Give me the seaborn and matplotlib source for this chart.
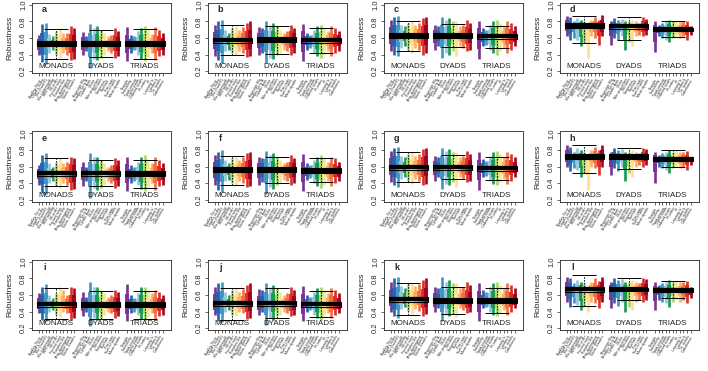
import numpy as np
import pandas as pd
import matplotlib
matplotlib.use("Agg")
import matplotlib.pyplot as plt
from matplotlib.patches import Rectangle
import seaborn as sns

sns.set_style("ticks")
plt.rcParams["font.family"] = ["Liberation Sans", "DejaVu Sans"]

panels = list("abcdefghijkl")
groups = ["MONADS", "DYADS", "TRIADS"]

# method names under each group (11 per group)
labels_monads = ["Bradley-Terry", "David's score", "Elo (fixed K)", "Elo (optimised)",
                 "I&SI ranking", "ISI order", "Percent wins", "Random Elo",
                 "Avg. dominance", "Clutton-Brock", "Norm. David's"]
labels_dyads = ["Bayesian Elo", "Bradley-Terry B.", "Dyadic dom.", "Glicko",
                "Win proportion", "Net wins", "Steepness", "TrueSkill",
                "Pair ratio", "Sum of wins", "Mean dyadic"]
labels_triads = ["Triangle", "Transitivity", "Triad census", "Cyclic triads",
                 "Ordered triads", "Pt index", "ttri", "Linearity h'", "Landau h",
                 "Tri. motifs", "Orderliness"]

colours = sns.color_palette(["#7b3294", "#2166ac", "#4393c3", "#92c5de", "#1a9850",
                             "#a6d96a", "#fee08b", "#fdae61", "#f46d43", "#d73027",
                             "#a50026"])

# group medians, box (q1, q3) and whisker ends per panel: MONADS, DYADS, TRIADS
median = {
    "a": [0.53, 0.53, 0.53], "b": [0.57, 0.58, 0.57], "c": [0.63, 0.63, 0.62], "d": [0.75, 0.74, 0.705],
    "e": [0.52, 0.52, 0.51], "f": [0.56, 0.56, 0.55], "g": [0.59, 0.59, 0.58], "h": [0.72, 0.72, 0.69],
    "i": [0.49, 0.48, 0.48], "j": [0.50, 0.50, 0.49], "k": [0.55, 0.53, 0.53], "l": [0.67, 0.67, 0.66],
}
q1 = {
    "a": [0.50, 0.50, 0.50], "b": [0.54, 0.55, 0.54], "c": [0.60, 0.60, 0.59], "d": [0.72, 0.71, 0.685],
    "e": [0.49, 0.49, 0.48], "f": [0.53, 0.53, 0.52], "g": [0.56, 0.56, 0.55], "h": [0.69, 0.69, 0.67],
    "i": [0.46, 0.45, 0.45], "j": [0.47, 0.47, 0.46], "k": [0.52, 0.50, 0.50], "l": [0.64, 0.65, 0.64],
}
q3 = {
    "a": [0.56, 0.56, 0.56], "b": [0.60, 0.61, 0.60], "c": [0.66, 0.66, 0.65], "d": [0.78, 0.77, 0.725],
    "e": [0.55, 0.55, 0.54], "f": [0.59, 0.59, 0.58], "g": [0.62, 0.62, 0.61], "h": [0.75, 0.75, 0.71],
    "i": [0.52, 0.51, 0.51], "j": [0.53, 0.53, 0.52], "k": [0.58, 0.56, 0.56], "l": [0.70, 0.69, 0.68],
}
whisk_lo = {
    "a": [0.35, 0.37, 0.35], "b": [0.39, 0.41, 0.42], "c": [0.44, 0.49, 0.475], "d": [0.54, 0.58, 0.61],
    "e": [0.36, 0.36, 0.34], "f": [0.38, 0.40, 0.41], "g": [0.41, 0.45, 0.44], "h": [0.52, 0.57, 0.60],
    "i": [0.31, 0.31, 0.31], "j": [0.30, 0.32, 0.33], "k": [0.36, 0.37, 0.38], "l": [0.47, 0.54, 0.56],
}
whisk_hi = {
    "a": [0.71, 0.70, 0.71], "b": [0.76, 0.75, 0.72], "c": [0.81, 0.77, 0.74], "d": [0.87, 0.85, 0.81],
    "e": [0.70, 0.68, 0.68], "f": [0.73, 0.72, 0.70], "g": [0.77, 0.74, 0.72], "h": [0.86, 0.83, 0.80],
    "i": [0.68, 0.65, 0.65], "j": [0.69, 0.68, 0.65], "k": [0.74, 0.70, 0.69], "l": [0.84, 0.80, 0.77],
}

# lowest / highest value of every method (MONADS 11, DYADS 11, TRIADS 11)
strip_lo = {
    "a": [0.40, 0.31, 0.29, 0.42, 0.45, 0.39, 0.36, 0.42, 0.40, 0.33, 0.35,
          0.40, 0.44, 0.24, 0.35, 0.33, 0.36, 0.40, 0.44, 0.42, 0.36, 0.38,
          0.32, 0.42, 0.45, 0.40, 0.35, 0.32, 0.37, 0.42, 0.33, 0.38, 0.40],
    "b": [0.38, 0.33, 0.30, 0.44, 0.46, 0.42, 0.40, 0.44, 0.42, 0.37, 0.38,
          0.40, 0.42, 0.30, 0.36, 0.34, 0.40, 0.42, 0.46, 0.44, 0.40, 0.42,
          0.32, 0.46, 0.48, 0.42, 0.38, 0.36, 0.40, 0.44, 0.38, 0.42, 0.44],
    "c": [0.44, 0.40, 0.38, 0.48, 0.50, 0.46, 0.42, 0.48, 0.46, 0.40, 0.42,
          0.46, 0.50, 0.36, 0.42, 0.40, 0.44, 0.38, 0.50, 0.48, 0.44, 0.46,
          0.34, 0.50, 0.52, 0.46, 0.42, 0.40, 0.44, 0.48, 0.42, 0.46, 0.50],
    "d": [0.63, 0.57, 0.60, 0.58, 0.50, 0.55, 0.36, 0.62, 0.60, 0.52, 0.62,
          0.52, 0.60, 0.57, 0.62, 0.45, 0.55, 0.50, 0.62, 0.64, 0.62, 0.64,
          0.43, 0.62, 0.60, 0.58, 0.55, 0.60, 0.62, 0.60, 0.62, 0.58, 0.64],
    "e": [0.38, 0.28, 0.27, 0.40, 0.42, 0.36, 0.34, 0.40, 0.38, 0.31, 0.33,
          0.36, 0.42, 0.22, 0.34, 0.32, 0.34, 0.38, 0.42, 0.40, 0.34, 0.36,
          0.30, 0.40, 0.42, 0.38, 0.33, 0.30, 0.35, 0.40, 0.32, 0.36, 0.38],
    "f": [0.37, 0.31, 0.29, 0.42, 0.44, 0.40, 0.38, 0.42, 0.40, 0.35, 0.36,
          0.38, 0.41, 0.27, 0.35, 0.33, 0.38, 0.40, 0.44, 0.42, 0.38, 0.40,
          0.30, 0.44, 0.46, 0.40, 0.36, 0.34, 0.38, 0.42, 0.36, 0.40, 0.42],
    "g": [0.41, 0.37, 0.35, 0.45, 0.47, 0.43, 0.39, 0.45, 0.43, 0.37, 0.39,
          0.43, 0.47, 0.33, 0.39, 0.37, 0.41, 0.35, 0.47, 0.45, 0.41, 0.43,
          0.31, 0.47, 0.49, 0.43, 0.39, 0.37, 0.41, 0.45, 0.39, 0.43, 0.47],
    "h": [0.60, 0.54, 0.58, 0.56, 0.47, 0.52, 0.32, 0.60, 0.58, 0.50, 0.60,
          0.50, 0.58, 0.55, 0.60, 0.42, 0.52, 0.47, 0.60, 0.62, 0.60, 0.62,
          0.40, 0.60, 0.58, 0.56, 0.52, 0.58, 0.60, 0.58, 0.60, 0.56, 0.62],
    "i": [0.38, 0.30, 0.28, 0.40, 0.42, 0.36, 0.33, 0.40, 0.38, 0.30, 0.32,
          0.34, 0.40, 0.22, 0.32, 0.30, 0.32, 0.36, 0.40, 0.38, 0.32, 0.34,
          0.28, 0.38, 0.40, 0.36, 0.31, 0.28, 0.33, 0.38, 0.30, 0.34, 0.36],
    "j": [0.36, 0.29, 0.27, 0.40, 0.42, 0.36, 0.34, 0.40, 0.38, 0.31, 0.32,
          0.36, 0.40, 0.24, 0.32, 0.30, 0.34, 0.36, 0.40, 0.38, 0.34, 0.36,
          0.28, 0.40, 0.42, 0.36, 0.32, 0.30, 0.34, 0.38, 0.32, 0.36, 0.38],
    "k": [0.40, 0.34, 0.32, 0.43, 0.45, 0.41, 0.37, 0.43, 0.41, 0.35, 0.37,
          0.40, 0.44, 0.29, 0.36, 0.34, 0.38, 0.33, 0.44, 0.42, 0.38, 0.40,
          0.29, 0.44, 0.46, 0.40, 0.36, 0.34, 0.38, 0.42, 0.36, 0.40, 0.44],
    "l": [0.52, 0.46, 0.50, 0.48, 0.42, 0.46, 0.39, 0.52, 0.50, 0.44, 0.52,
          0.44, 0.50, 0.47, 0.52, 0.40, 0.46, 0.42, 0.52, 0.54, 0.52, 0.54,
          0.42, 0.54, 0.52, 0.50, 0.46, 0.52, 0.54, 0.52, 0.54, 0.50, 0.56],
}
strip_hi = {
    "a": [0.64, 0.77, 0.78, 0.65, 0.62, 0.68, 0.72, 0.66, 0.66, 0.74, 0.72,
          0.67, 0.62, 0.77, 0.72, 0.74, 0.70, 0.66, 0.62, 0.64, 0.72, 0.69,
          0.73, 0.64, 0.62, 0.68, 0.72, 0.75, 0.70, 0.65, 0.73, 0.70, 0.66],
    "b": [0.76, 0.80, 0.82, 0.70, 0.66, 0.72, 0.74, 0.70, 0.73, 0.78, 0.80,
          0.73, 0.72, 0.80, 0.76, 0.78, 0.74, 0.70, 0.66, 0.68, 0.76, 0.72,
          0.77, 0.66, 0.64, 0.70, 0.74, 0.76, 0.72, 0.68, 0.74, 0.72, 0.68],
    "c": [0.82, 0.86, 0.87, 0.76, 0.74, 0.78, 0.80, 0.76, 0.78, 0.84, 0.86,
          0.76, 0.74, 0.86, 0.82, 0.84, 0.80, 0.80, 0.74, 0.76, 0.82, 0.78,
          0.80, 0.72, 0.70, 0.76, 0.80, 0.82, 0.78, 0.74, 0.80, 0.78, 0.74],
    "d": [0.87, 0.85, 0.80, 0.84, 0.82, 0.80, 0.76, 0.82, 0.85, 0.82, 0.88,
          0.80, 0.84, 0.82, 0.83, 0.80, 0.80, 0.82, 0.80, 0.78, 0.85, 0.83,
          0.80, 0.76, 0.78, 0.80, 0.82, 0.80, 0.82, 0.80, 0.80, 0.81, 0.74],
    "e": [0.62, 0.74, 0.76, 0.64, 0.60, 0.66, 0.70, 0.64, 0.66, 0.72, 0.70,
          0.66, 0.60, 0.76, 0.72, 0.72, 0.68, 0.64, 0.60, 0.62, 0.70, 0.68,
          0.72, 0.62, 0.60, 0.66, 0.72, 0.74, 0.69, 0.64, 0.72, 0.68, 0.64],
    "f": [0.74, 0.78, 0.80, 0.68, 0.64, 0.70, 0.72, 0.68, 0.71, 0.76, 0.78,
          0.71, 0.70, 0.79, 0.74, 0.76, 0.72, 0.68, 0.64, 0.66, 0.74, 0.70,
          0.75, 0.64, 0.62, 0.68, 0.72, 0.74, 0.70, 0.66, 0.72, 0.70, 0.66],
    "g": [0.79, 0.83, 0.84, 0.73, 0.71, 0.75, 0.77, 0.73, 0.75, 0.81, 0.83,
          0.73, 0.71, 0.83, 0.79, 0.81, 0.77, 0.77, 0.71, 0.73, 0.79, 0.75,
          0.77, 0.69, 0.67, 0.73, 0.77, 0.79, 0.75, 0.71, 0.77, 0.75, 0.71],
    "h": [0.86, 0.84, 0.78, 0.82, 0.80, 0.78, 0.74, 0.80, 0.84, 0.80, 0.86,
          0.78, 0.82, 0.80, 0.81, 0.78, 0.78, 0.80, 0.78, 0.76, 0.83, 0.81,
          0.78, 0.74, 0.76, 0.78, 0.80, 0.78, 0.80, 0.78, 0.78, 0.79, 0.72],
    "i": [0.62, 0.70, 0.73, 0.60, 0.56, 0.62, 0.70, 0.66, 0.60, 0.70, 0.68,
          0.64, 0.58, 0.76, 0.70, 0.70, 0.66, 0.62, 0.58, 0.60, 0.66, 0.64,
          0.73, 0.60, 0.56, 0.62, 0.70, 0.70, 0.66, 0.62, 0.66, 0.64, 0.60],
    "j": [0.70, 0.74, 0.76, 0.64, 0.60, 0.66, 0.68, 0.64, 0.67, 0.72, 0.74,
          0.67, 0.66, 0.75, 0.70, 0.72, 0.68, 0.64, 0.60, 0.62, 0.70, 0.66,
          0.71, 0.60, 0.58, 0.64, 0.68, 0.70, 0.66, 0.62, 0.68, 0.66, 0.62],
    "k": [0.76, 0.80, 0.82, 0.71, 0.69, 0.73, 0.75, 0.71, 0.73, 0.78, 0.80,
          0.70, 0.68, 0.82, 0.76, 0.78, 0.74, 0.74, 0.68, 0.70, 0.76, 0.72,
          0.74, 0.66, 0.64, 0.70, 0.74, 0.76, 0.72, 0.68, 0.74, 0.72, 0.68],
    "l": [0.82, 0.80, 0.74, 0.78, 0.76, 0.74, 0.72, 0.76, 0.80, 0.77, 0.82,
          0.76, 0.80, 0.78, 0.79, 0.76, 0.76, 0.78, 0.76, 0.74, 0.80, 0.79,
          0.76, 0.72, 0.74, 0.76, 0.78, 0.76, 0.78, 0.76, 0.76, 0.77, 0.70],
}

n_meth = 11
step = 12.5
xpos = [g * step + i for g in range(3) for i in range(n_meth)]
tick_labels = labels_monads + labels_dyads + labels_triads
strip_cols = list(colours) * 3

fig = plt.figure(figsize=(7.08, 3.71), dpi=100)
W, H = 708, 371
lefts = [32, 208, 384, 560]
tops = [3, 131.5, 260]
box_w, box_h = 139, 70

for k, p in enumerate(panels):
    r, c = divmod(k, 4)
    ax = fig.add_axes([lefts[c] / W, 1 - (tops[r] + box_h) / H, box_w / W, box_h / H])
    lo = np.array(strip_lo[p])
    hi = np.array(strip_hi[p])
    med_rep = np.repeat(median[p], n_meth)
    # full range of each method, then a denser core around the median
    ax.vlines(xpos, lo, hi, colors=strip_cols, lw=1.9)
    core_lo = np.maximum(lo, med_rep - 0.55 * (med_rep - lo))
    core_hi = np.minimum(hi, med_rep + 0.55 * (hi - med_rep))
    ax.vlines(xpos, core_lo, core_hi, colors=strip_cols, lw=2.8)

    for g in range(3):
        x0 = g * step
        xc = x0 + (n_meth - 1) / 2
        ax.add_patch(Rectangle((x0 - 0.6, q1[p][g]), n_meth - 1 + 1.2, q3[p][g] - q1[p][g],
                               fill=False, ec="black", lw=0.8, zorder=4))
        ax.hlines(median[p][g], x0 - 0.6, x0 + n_meth - 1 + 0.6, color="black", lw=3.0, zorder=5)
        ax.vlines(xc, q3[p][g], whisk_hi[p][g], color="black", lw=0.6, ls=(0, (2, 1.5)), zorder=4)
        ax.vlines(xc, whisk_lo[p][g], q1[p][g], color="black", lw=0.6, ls=(0, (2, 1.5)), zorder=4)
        ax.hlines([whisk_lo[p][g], whisk_hi[p][g]], xc - 3.4, xc + 3.4, color="black", lw=0.7, zorder=4)
        ax.text(xc, 0.25, groups[g], ha="center", va="center", fontsize=5.8, color="#222222")

    ax.set_xlim(-1.9, 2 * step + n_meth - 1 + 2.4)
    ax.set_ylim(0.176, 1.024)
    ax.set_yticks([0.2, 0.4, 0.6, 0.8, 1.0])
    ax.set_yticklabels(["0.2", "0.4", "0.6", "0.8", "1.0"], rotation=90, va="center", fontsize=5.5)
    ax.set_xticks(xpos)
    ax.set_xticklabels(tick_labels, rotation=60, ha="right", rotation_mode="anchor", fontsize=2.6)
    ax.tick_params(length=2, width=0.5, pad=1.5)
    ax.set_ylabel("Robustness", fontsize=6, labelpad=5)
    for s in ax.spines.values():
        s.set_linewidth(0.6)
    ax.text(0.09, 0.9, p, transform=ax.transAxes, fontsize=6.5, fontweight="bold",
            ha="center", va="center")

fig.savefig("out.png", dpi=100)
